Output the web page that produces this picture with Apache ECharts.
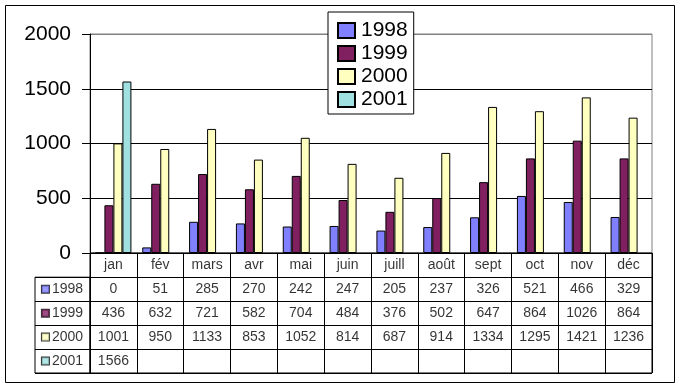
<!DOCTYPE html>
<html>
<head>
<meta charset="utf-8">
<script src="https://cdn.jsdelivr.net/npm/echarts@6/dist/echarts.min.js"></script>
<style>html,body{margin:0;padding:0;background:#fff;}#c{width:680px;height:387px;}</style>
</head>
<body>
<div id="c"></div>
<script>
const months = ['jan','fév','mars','avr','mai','juin','juill','août','sept','oct','nov','déc'];
const v1998 = [0,51,285,270,242,247,205,237,326,521,466,329];
const v1999 = [436,632,721,582,704,484,376,502,647,864,1026,864];
const v2000 = [1001,950,1133,853,1052,814,687,914,1334,1295,1421,1236];
const v2001 = [1566];
const yearNames = ['1998','1999','2000','2001'];
const seriesValues = [v1998, v1999, v2000, v2001];
const colors = ['#8080FF','#802060','#FFFFC0','#A0E0E0'];
const yMin = 0, yMax = 2000, yStep = 500;

const FONT = 'Liberation Sans, Arial, sans-serif';

const chart = echarts.init(document.getElementById('c'), null, {renderer: 'canvas'});

const barSeries = yearNames.map((name, k) => ({
  name: name,
  type: 'bar',
  xAxisIndex: 0,
  yAxisIndex: 0,
  data: seriesValues[k],
  barWidth: 9,
  barGap: '0%',
  itemStyle: {color: colors[k], borderColor: '#000', borderWidth: 1},
  emphasis: {disabled: true},
  silent: true
}));

// table cells
const headerCells = months.map((m, i) => [i, 0, m]);
const valueCells = [];
seriesValues.forEach((arr, r) => {
  arr.forEach((v, i) => valueCells.push([i, r + 1, v]));
});

const richLeft = {
  t: {fontSize: 14, fontFamily: FONT, color: '#000', padding: [0, 0, 0, 3]}
};
colors.forEach((c, k) => {
  richLeft['m' + k] = {width: 7, height: 7, backgroundColor: c, borderColor: '#000', borderWidth: 1};
});

const option = {
  animation: false,
  backgroundColor: '#fff',
  graphic: [{
    type: 'rect',
    shape: {x: 5.5, y: 5.5, width: 669, height: 377},
    style: {fill: 'none', stroke: '#000', lineWidth: 1},
    silent: true,
    z: -1
  }],
  legend: {
    data: yearNames,
    orient: 'vertical',
    left: 328,
    top: 12,
    padding: [8, 6, 4, 9],
    itemWidth: 17,
    itemHeight: 15,
    itemGap: 2,
    icon: 'rect',
    backgroundColor: '#fff',
    borderColor: '#000',
    borderWidth: 1,
    textStyle: {fontSize: 21, fontFamily: FONT, color: '#000', padding: [0, 0, 0, 1]},
    selectedMode: false,
    z: 10
  },
  grid: [
    {left: 90, top: 34, width: 562, height: 219, show: true, borderColor: '#808080', borderWidth: 1, backgroundColor: 'transparent'},
    {left: 90, top: 253, width: 562, height: 120, show: true, borderColor: '#000', borderWidth: 1},
    {left: 35, top: 277.2, width: 55, height: 95.8, show: true, borderColor: '#000', borderWidth: 1}
  ],
  xAxis: [
    {type: 'category', gridIndex: 0, data: months,
     axisLine: {show: true, lineStyle: {color: '#000', width: 1}},
     axisTick: {show: false}, axisLabel: {show: false}, splitLine: {show: false}},
    {type: 'category', gridIndex: 1, data: months,
     axisLine: {show: false}, axisTick: {show: false}, axisLabel: {show: false},
     splitLine: {show: true, interval: 0, lineStyle: {color: '#000', width: 1}}},
    {type: 'category', gridIndex: 2, data: ['s'],
     axisLine: {show: false}, axisTick: {show: false}, axisLabel: {show: false}, splitLine: {show: false}}
  ],
  yAxis: [
    {type: 'value', gridIndex: 0, min: yMin, max: yMax, interval: yStep,
     axisLine: {show: true, lineStyle: {color: '#000', width: 1}},
     axisTick: {show: true, length: 8, inside: false, lineStyle: {color: '#000'}},
     axisLabel: {fontSize: 21, fontFamily: FONT, color: '#000', margin: 19, formatter: v => String(v)},
     splitLine: {show: true, lineStyle: {color: ['#000', '#000', '#000', '#000', '#808080'], width: 1}}},
    {type: 'category', gridIndex: 1, inverse: true, data: ['hdr'].concat(yearNames),
     axisLine: {show: false}, axisTick: {show: false}, axisLabel: {show: false},
     splitLine: {show: true, interval: 0, lineStyle: {color: '#000', width: 1}}},
    {type: 'category', gridIndex: 2, inverse: true, data: yearNames,
     axisLine: {show: false}, axisTick: {show: false}, axisLabel: {show: false},
     splitLine: {show: true, interval: 0, lineStyle: {color: '#000', width: 1}}}
  ],
  series: barSeries.concat([
    {
      name: 'tableHeader', type: 'scatter', xAxisIndex: 1, yAxisIndex: 1,
      data: headerCells, symbolSize: 1, itemStyle: {color: 'transparent'},
      silent: true,
      label: {show: true, position: 'inside', formatter: p => p.data[2], fontSize: 14, fontFamily: FONT, color: '#000'}
    },
    {
      name: 'tableValues', type: 'scatter', xAxisIndex: 1, yAxisIndex: 1,
      data: valueCells, symbolSize: 1, itemStyle: {color: 'transparent'},
      silent: true,
      label: {show: true, position: 'inside', formatter: p => String(p.data[2]), fontSize: 14, fontFamily: FONT, color: '#000'}
    },
    {
      name: 'tableRowNames', type: 'scatter', xAxisIndex: 2, yAxisIndex: 2,
      data: yearNames.map((n, k) => [0, k, k]), symbolSize: 1, itemStyle: {color: 'transparent'},
      silent: true,
      label: {show: true, position: 'inside',
        formatter: p => '{m' + p.data[2] + '|}{t|' + yearNames[p.data[2]] + '}',
        rich: richLeft}
    }
  ])
};

chart.setOption(option);
</script>
</body>
</html>
